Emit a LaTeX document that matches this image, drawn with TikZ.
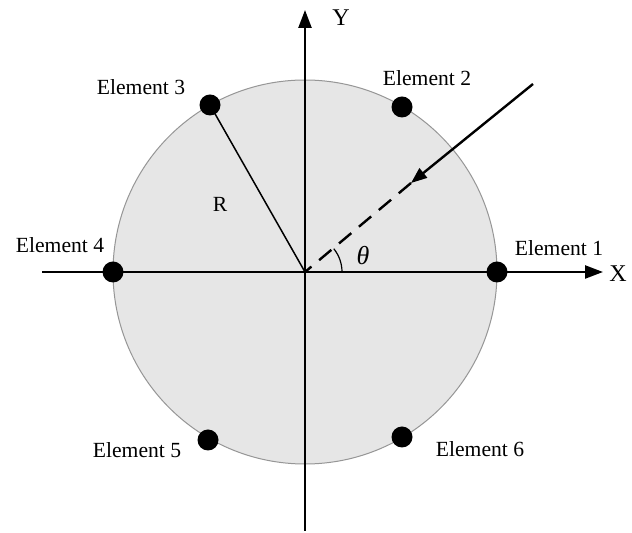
\documentclass[tikz,border=0pt]{standalone}
\usepackage{fontspec}
\setmainfont{Liberation Serif}
\usetikzlibrary{arrows.meta}
\begin{document}
\begin{tikzpicture}[x=0.5pt,y=-0.5pt,
  axis/.style={line width=1.2pt,-{Triangle[length=9pt,width=6.5pt]}},
  elem/.style={circle,fill=black,inner sep=0pt,minimum size=10.5pt},
  lbl/.style={font=\fontsize{10.8}{13}\selectfont,inner sep=0pt},
  ray/.style={line width=1.2pt}]
\useasboundingbox (0,0) rectangle (632,533);
\coordinate (O) at (305,272);
% disc
\draw[fill={rgb,255:red,230;green,230;blue,230},draw={rgb,255:red,150;green,150;blue,150},line width=0.5pt] (O) circle[radius=96pt];
% axes
\coordinate (Xl) at (42,272);
\coordinate (Xr) at (603,272);
\coordinate (Yb) at (305,531);
\coordinate (Yt) at (305,10);
\draw[axis] (Xl) -- (Xr);
\draw[axis] (Yb) -- (Yt);
\node[lbl,font=\fontsize{12}{14}\selectfont] (xl) at (618,274) {X};
\node[lbl,font=\fontsize{12}{14}\selectfont] (yl) at (341,18) {Y};
% elements
\node[elem] (e1) at (497,272) {};
\node[elem] (e2) at (402,107) {};
\node[elem] (e3) at (210,105) {};
\node[elem] (e4) at (113,272) {};
\node[elem] (e5) at (208,440) {};
\node[elem] (e6) at (402,437) {};
\node[lbl] (l1) at (559,248) {Element 1};
\node[lbl] (l2) at (427,78) {Element 2};
\node[lbl] (l3) at (141,87) {Element 3};
\node[lbl] (l4) at (60,245) {Element 4};
\node[lbl] (l5) at (137,450) {Element 5};
\node[lbl] (l6) at (480,449) {Element 6};
% radius
\draw[line width=0.75pt] (O) -- (e3.center);
\node[lbl] (rl) at (220,204) {R};
% incident ray
\coordinate (S) at (533,84);
\coordinate (A) at (411,183);
\draw[ray,-{Triangle[length=8pt,width=6pt]}] (S) -- (A);
\draw[ray,dash pattern=on 8pt off 5pt] (A) -- (O);
% angle
\draw[line width=0.6pt] (342,272) arc[start angle=0,end angle=39,radius=18.5pt];
\node[lbl,font=\fontsize{13}{15}\selectfont\itshape] (th) at (363,256) {θ};
\end{tikzpicture}
\end{document}
